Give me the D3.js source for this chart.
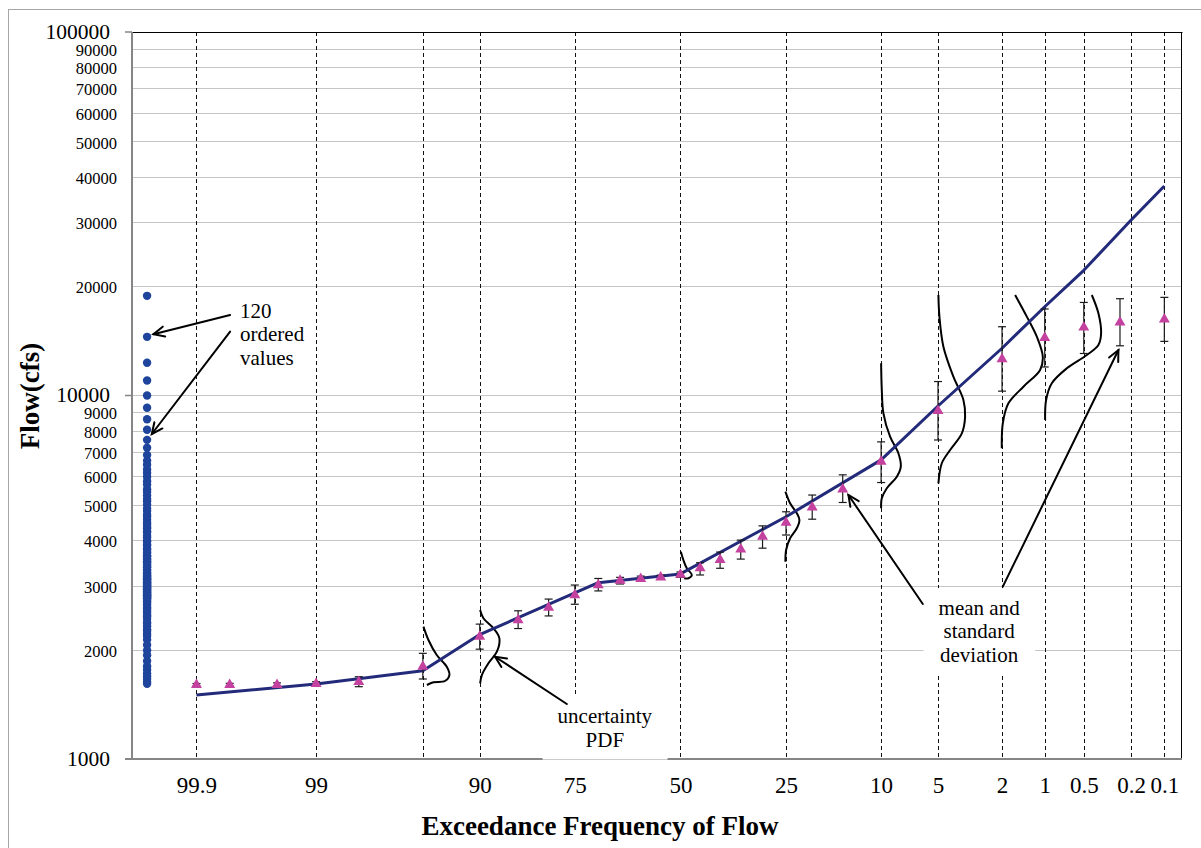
<!DOCTYPE html>
<html>
<head>
<meta charset="utf-8">
<script src="https://cdn.jsdelivr.net/npm/d3@7"></script>
<style>
  body { margin: 0; background: #fff; }
  text { font-family: "Liberation Serif", "Times New Roman", serif; fill: #000; }
</style>
</head>
<body>
<div id="chart"></div>
<script>
// ---- data ----
const yTicks = [1000, 2000, 3000, 4000, 5000, 6000, 7000, 8000, 9000,
                10000, 20000, 30000, 40000, 50000, 60000, 70000, 80000, 90000, 100000];
const yMajor = [1000, 10000, 100000];
const xLabels = ["99.9", "99", "90", "75", "50", "25", "10", "5", "2", "1", "0.5", "0.2", "0.1"];
const xGrid = [99.9, 99, 95, 90, 75, 50, 25, 10, 5, 2, 1, 0.5, 0.2, 0.1];

// 120 ordered values (plotted as one column at the far left)
const sampleExceedance = 99.967;
const sampleFlows = [
  18800, 14500, 12300, 11000, 10000, 9250, 8600, 8050, 7550, 7180,
  6860, 6620, 6450, 6260, 6120, 5980, 5810, 5690, 5520, 5430,
  5310, 5190, 5120, 5010, 4890, 4810, 4700, 4640, 4550, 4470,
  4420, 4350, 4310, 4230, 4190, 4110, 4070, 3990, 3960, 3890,
  3860, 3790, 3770, 3710, 3690, 3630, 3610, 3560, 3540, 3500,
  3480, 3440, 3420, 3380, 3370, 3320, 3300, 3260, 3240, 3210,
  3190, 3180, 3150, 3140, 3120, 3110, 3090, 3070, 3060, 3040,
  3030, 3010, 3000, 2980, 2970, 2950, 2930, 2920, 2900, 2890,
  2870, 2860, 2850, 2830, 2820, 2810, 2800, 2790, 2770, 2760,
  2740, 2710, 2690, 2660, 2620, 2600, 2560, 2530, 2490, 2470,
  2430, 2380, 2360, 2320, 2270, 2250, 2210, 2180, 2130, 2060,
  1990, 1930, 1860, 1800, 1760, 1720, 1690, 1660, 1630, 1610
];

// mean and standard deviation of the estimates
const estProb = [99.9, 99.8, 99.5, 99, 98, 95, 90, 85, 80, 75, 70, 65, 60, 55, 50,
                 45, 40, 35, 30, 25, 20, 15, 10, 5, 2, 1, 0.5, 0.25, 0.1];
const estMean = [1600, 1600, 1600, 1610, 1630, 1795, 2170, 2410, 2610, 2825, 3010, 3095, 3130, 3160, 3215,
                 3350, 3530, 3775, 4090, 4470, 4925, 5520, 6580, 9080, 12600, 14420, 15400, 15900, 16210];
const estLow  = [1588, 1588, 1587, 1590, 1581, 1660, 2005, 2285, 2475, 2665, 2900, 3030, 3080, 3120, 3160,
                 3208, 3347, 3548, 3802, 4132, 4568, 5078, 5762, 7544, 10280, 11980, 13050, 13700, 14090];
const estHigh = [1613, 1615, 1620, 1632, 1684, 1953, 2350, 2557, 2754, 3010, 3138, 3160, 3185, 3205, 3270,
                 3467, 3709, 4001, 4379, 4787, 5323, 6050, 7455, 10925, 15460, 17300, 18030, 18460, 18620];

// fitted frequency curve
const fitProb = [99.9, 99, 95, 90, 70, 50, 25, 10, 5, 2, 1, 0.5, 0.2, 0.1];
const fitFlow = [1500, 1608, 1748, 2200, 3055, 3230, 4640, 6650, 9356, 13490, 17550, 22100, 30400, 37700];

// uncertainty PDF sketches, points as [normal variate, flow]
const pdf95 = [[-1.641, 2312], [-1.609, 2125], [-1.556, 1932], [-1.492, 1794], [-1.475, 1702], [-1.503, 1639], [-1.577, 1626], [-1.619, 1598]];
const pdf90 = [[-1.279, 2570], [-1.258, 2438], [-1.194, 2289], [-1.156, 2148], [-1.172, 1973], [-1.226, 1834], [-1.268, 1702], [-1.279, 1615]];
const pdf50 = [[0.003, 3718], [0.019, 3527], [0.041, 3346], [0.073, 3208], [0.051, 3142], [0.024, 3142]];
const pdf25 = [[0.6705, 5438], [0.7005, 5051], [0.7433, 4743], [0.7599, 4546], [0.7433, 4312], [0.7005, 4048], [0.675, 3758], [0.6705, 3489]];
const pdf10 = [[1.2816, 12265], [1.286, 10354], [1.2963, 8933], [1.339, 7702], [1.392, 6934], [1.4074, 6371], [1.3819, 5978], [1.318, 5556], [1.286, 5215], [1.2816, 4894]];
const pdf5  = [[1.6475, 18900], [1.654, 16480], [1.6794, 13625], [1.7433, 11265], [1.8072, 9719], [1.818, 8743], [1.797, 7870], [1.7222, 7082], [1.6692, 6510], [1.6475, 5734]];
const pdf2  = [[2.1373, 18900], [2.212, 16480], [2.2759, 14515], [2.3142, 12786], [2.297, 11755], [2.1903, 10573], [2.0945, 9518], [2.0587, 8385], [2.0523, 7158]];
const pdf1  = [[2.6271, 18900], [2.6692, 16835], [2.6865, 14834], [2.6692, 13770], [2.5951, 12922], [2.4674, 11880], [2.3716, 10804], [2.3352, 9719], [2.3289, 8563]];

// annotations: arrows [from, tip] and notes, in [normal variate, flow]
const arrowList = [
  [[-2.8755, 16655], [-3.3653, 14740]],
  [[-2.8755, 14985], [-3.3755, 7836]],
  [[-0.7254, 1417], [-1.1833, 1911]],
  [[1.5479, 2669], [1.0728, 5325]],
  [[2.0587, 2979], [2.797, 13340]]
];
const noteText = [["120", "ordered", "values"], ["uncertainty", "PDF"], ["mean and", "standard", "deviation"]];
const noteAt = [[-2.812, 16340], [-0.4828, 1254], [1.9074, 2489]];
const noteAnchor = ["start", "middle", "middle"];
const notePad = [2, 15, 15];

// inverse standard normal (Acklam)
function normInv(p) {
  const a = [-3.969683028665376e+01, 2.209460984245205e+02, -2.759285104469687e+02, 1.383577518672690e+02, -3.066479806614716e+01, 2.506628277459239e+00];
  const b = [-5.447609879822406e+01, 1.615858368580409e+02, -1.556989798598866e+02, 6.680131188771972e+01, -1.328068155288572e+01];
  const c = [-7.784894002430293e-03, -3.223964580411365e-01, -2.400758277161838e+00, -2.549732539343734e+00, 4.374664141464968e+00, 2.938163982698783e+00];
  const d = [7.784695709041462e-03, 3.224671290700398e-01, 2.445134137142996e+00, 3.754408661907416e+00];
  const pl = 0.02425;
  let q, r;
  if (p < pl) {
    q = Math.sqrt(-2 * Math.log(p));
    return (((((c[0]*q+c[1])*q+c[2])*q+c[3])*q+c[4])*q+c[5]) / ((((d[0]*q+d[1])*q+d[2])*q+d[3])*q+1);
  }
  if (p > 1 - pl) {
    q = Math.sqrt(-2 * Math.log(1 - p));
    return -(((((c[0]*q+c[1])*q+c[2])*q+c[3])*q+c[4])*q+c[5]) / ((((d[0]*q+d[1])*q+d[2])*q+d[3])*q+1);
  }
  q = p - 0.5; r = q * q;
  return (((((a[0]*r+a[1])*r+a[2])*r+a[3])*r+a[4])*r+a[5])*q / (((((b[0]*r+b[1])*r+b[2])*r+b[3])*r+b[4])*r+1);
}
// exceedance percent -> normal variate
const zOf = pct => normInv(1 - pct / 100);

// ---- layout ----
const W = 1201, H = 848;
const plot = {left: 132, right: 1182, top: 32, bottom: 759};

const svg = d3.select('#chart').append('svg')
  .attr('width', W)
  .attr('height', H);

const x = d3.scaleLinear().domain([-3.502, 3.203]).range([plot.left, plot.right]);
const y = d3.scaleLog().domain([1000, 100000]).range([plot.bottom, plot.top]);
const px = v => Math.round(v) + 0.5;

// outer frame
svg.append('rect')
  .attr('x', 8.5).attr('y', 9.5)
  .attr('width', 1200).attr('height', 850)
  .attr('fill', 'none').attr('stroke', '#a6a6a6');

// horizontal grid
svg.append('g')
  .selectAll('line')
  .data(yTicks.filter(v => v > 1000 && v < 100000))
  .join('line')
  .attr('x1', plot.left).attr('x2', plot.right)
  .attr('y1', d => px(y(d))).attr('y2', d => px(y(d)))
  .attr('stroke', '#c6c6c6').attr('stroke-width', 1);

// dashed probability lines
svg.append('g')
  .selectAll('line')
  .data(xGrid)
  .join('line')
  .attr('x1', d => px(x(zOf(d)))).attr('x2', d => px(x(zOf(d))))
  .attr('y1', plot.top).attr('y2', plot.bottom)
  .attr('stroke', '#111').attr('stroke-width', 1)
  .attr('stroke-dasharray', '4,3');

// plot border (top/right black, axes grey)
svg.append('line').attr('x1', plot.left).attr('x2', plot.right + 0.5)
  .attr('y1', plot.top + 0.5).attr('y2', plot.top + 0.5).attr('stroke', '#000');
svg.append('line').attr('x1', plot.right - 0.5).attr('x2', plot.right - 0.5)
  .attr('y1', plot.top).attr('y2', plot.bottom).attr('stroke', '#000');
svg.append('line').attr('x1', plot.left).attr('x2', plot.left)
  .attr('y1', plot.top).attr('y2', plot.bottom + 1).attr('stroke', '#868686').attr('stroke-width', 2);
svg.append('line').attr('x1', plot.left - 7).attr('x2', plot.right)
  .attr('y1', plot.bottom).attr('y2', plot.bottom).attr('stroke', '#868686').attr('stroke-width', 2);
svg.append('g')
  .selectAll('line')
  .data(yMajor)
  .join('line')
  .attr('x1', plot.left - 7).attr('x2', plot.left)
  .attr('y1', d => y(d)).attr('y2', d => y(d))
  .attr('stroke', '#868686').attr('stroke-width', 1.5);

// y axis labels
const yAxis = d3.axisLeft(y).tickValues(yTicks).tickFormat(d3.format('d')).tickSize(0);
const yAxisGroup = svg.append('g')
  .attr('transform', `translate(${plot.left},0)`)
  .call(yAxis)
  .attr('font-family', 'Liberation Serif');
yAxisGroup.select('.domain').remove();
yAxisGroup.selectAll('text')
  .attr('x', d => yMajor.includes(d) ? -22 : -15)
  .attr('dy', d => yMajor.includes(d) ? '0.3em' : '0.4em')
  .style('font-size', d => yMajor.includes(d) ? '21.5px' : '16.5px');

// x axis labels
const xAxis = d3.axisBottom(x)
  .tickValues(xLabels.map(s => zOf(+s)))
  .tickFormat((d, i) => xLabels[i])
  .tickSize(0);
const xAxisGroup = svg.append('g')
  .attr('transform', `translate(0,${plot.bottom})`)
  .call(xAxis)
  .attr('font-family', 'Liberation Serif');
xAxisGroup.select('.domain').remove();
xAxisGroup.selectAll('text')
  .attr('y', 34).attr('dy', 0)
  .style('font-size', '23px');

// axis titles
svg.append('text')
  .attr('x', 600).attr('y', 835)
  .attr('text-anchor', 'middle')
  .style('font-size', '27px').style('font-weight', 'bold')
  .text('Exceedance Frequency of Flow');
svg.append('text')
  .attr('transform', 'translate(39,396) rotate(-90)')
  .attr('text-anchor', 'middle')
  .style('font-size', '27px').style('font-weight', 'bold')
  .text('Flow(cfs)');

// uncertainty PDF sketches
const pdfLine = d3.line()
  .x(d => x(d[0]))
  .y(d => y(d[1]))
  .curve(d3.curveCatmullRom.alpha(0.5));
svg.append('g')
  .selectAll('path')
  .data([pdf95, pdf90, pdf50, pdf25, pdf10, pdf5, pdf2, pdf1])
  .join('path')
  .attr('d', pdfLine)
  .attr('fill', 'none').attr('stroke', '#000').attr('stroke-width', 2);

// fitted curve
const fitLine = d3.line().x(d => x(zOf(d[0]))).y(d => y(d[1]));
svg.append('path')
  .datum(fitProb.map((p, i) => [p, fitFlow[i]]))
  .attr('d', fitLine)
  .attr('fill', 'none').attr('stroke', '#232a7a').attr('stroke-width', 3)
  .attr('stroke-linejoin', 'round');

// error bars
const est = estProb.map((p, i) => ({p, mean: estMean[i], lo: estLow[i], hi: estHigh[i]}));
const bars = svg.append('g').attr('stroke', '#1a1a1a').attr('stroke-width', 1.2);
bars.selectAll('.stem').data(est).join('line').attr('class', 'stem')
  .attr('x1', d => x(zOf(d.p))).attr('x2', d => x(zOf(d.p)))
  .attr('y1', d => y(d.lo)).attr('y2', d => y(d.hi));
bars.selectAll('.capHi').data(est).join('line').attr('class', 'capHi')
  .attr('x1', d => x(zOf(d.p)) - 4).attr('x2', d => x(zOf(d.p)) + 4)
  .attr('y1', d => y(d.hi)).attr('y2', d => y(d.hi));
bars.selectAll('.capLo').data(est).join('line').attr('class', 'capLo')
  .attr('x1', d => x(zOf(d.p)) - 4).attr('x2', d => x(zOf(d.p)) + 4)
  .attr('y1', d => y(d.lo)).attr('y2', d => y(d.lo));

// mean markers
svg.append('g')
  .selectAll('path')
  .data(est)
  .join('path')
  .attr('transform', d => `translate(${x(zOf(d.p))},${y(d.mean)})`)
  .attr('d', d3.symbol(d3.symbolTriangle, 52))
  .attr('fill', '#c4419f');

// ordered sample values
svg.append('g')
  .selectAll('circle')
  .data(sampleFlows)
  .join('circle')
  .attr('cx', x(zOf(sampleExceedance)))
  .attr('cy', d => y(d))
  .attr('r', 4.2)
  .attr('fill', '#1f449c');

// notes with white boxes
noteText.forEach((lines, i) => {
  const g = svg.append('g');
  const tx = x(noteAt[i][0]), ty = y(noteAt[i][1]);
  const t = g.append('text')
    .attr('text-anchor', noteAnchor[i])
    .style('font-size', '21px');
  lines.forEach((s, j) => t.append('tspan').attr('x', tx).attr('y', ty + j * 23.3).text(s));
  const bb = t.node().getBBox();
  g.insert('rect', 'text')
    .attr('x', bb.x - notePad[i]).attr('y', bb.y - 8)
    .attr('width', bb.width + 2 * notePad[i]).attr('height', bb.height + 16)
    .attr('fill', '#fff');
});

// arrows
const arrows = svg.append('g').attr('stroke', '#000').attr('stroke-width', 2)
  .attr('fill', 'none').attr('stroke-linecap', 'round');
arrowList.forEach(a => {
  const x1 = x(a[0][0]), y1 = y(a[0][1]), x2 = x(a[1][0]), y2 = y(a[1][1]);
  const ang = Math.atan2(y1 - y2, x1 - x2);
  const len = 12, spread = 25 * Math.PI / 180;
  arrows.append('line').attr('x1', x1).attr('y1', y1).attr('x2', x2).attr('y2', y2);
  arrows.append('path').attr('d',
    `M${x2 + len * Math.cos(ang + spread)},${y2 + len * Math.sin(ang + spread)}` +
    `L${x2},${y2}` +
    `L${x2 + len * Math.cos(ang - spread)},${y2 + len * Math.sin(ang - spread)}`);
});
</script>
</body>
</html>
